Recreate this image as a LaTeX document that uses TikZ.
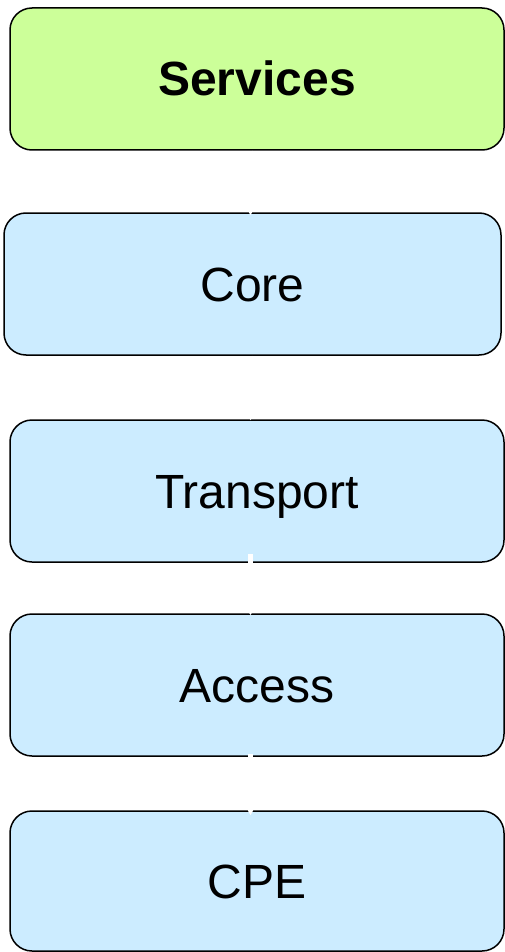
\documentclass[tikz,border=0pt]{standalone}
\usepackage{fontspec}
\setmainfont{Liberation Sans}
\usetikzlibrary{arrows.meta}
\definecolor{layergreen}{HTML}{CCFF99}
\definecolor{layerblue}{HTML}{CCECFF}
\begin{document}
\begin{tikzpicture}[x=1pt,y=-1pt,
  layer/.style={draw=black, line width=1.5pt, rounded corners=22pt,
    minimum width=494pt, minimum height=142pt, inner sep=0pt,
    text height=34pt, text depth=0pt,
    font=\fontsize{48}{56}\selectfont},
  link/.style={draw=white, line width=4.5pt,
    -{Triangle[width=5pt,length=5pt]}}]
  \useasboundingbox (0,0) rectangle (505,952);
  % protocol stack, top to bottom
  \node[layer, fill=layergreen, font=\fontsize{48}{56}\selectfont\bfseries] (services) at (257,79) {Services};
  \node[layer, fill=layerblue, minimum width=497pt] (core) at (252.5,284) {Core};
  \node[layer, fill=layerblue] (transport) at (257,491) {Transport};
  \node[layer, fill=layerblue] (access) at (257,685) {Access};
  \node[layer, fill=layerblue, minimum height=140pt] (cpe) at (257,881) {CPE};
  % white links between neighbouring layers
  \draw[link] ([xshift=-6.5pt]services.south) -- ([xshift=-2pt,yshift=-3pt]core.north);
  \draw[link] ([xshift=-2pt]core.south) -- ([xshift=-6.5pt,yshift=-1pt]transport.north);
  \draw[link] ([xshift=-6.5pt,yshift=9pt]transport.south) -- ([xshift=-6.5pt,yshift=-2pt]access.north);
  \draw[link] ([xshift=-6.5pt,yshift=3pt]access.south) -- ([xshift=-6.5pt,yshift=-5pt]cpe.north);
\end{tikzpicture}
\end{document}
